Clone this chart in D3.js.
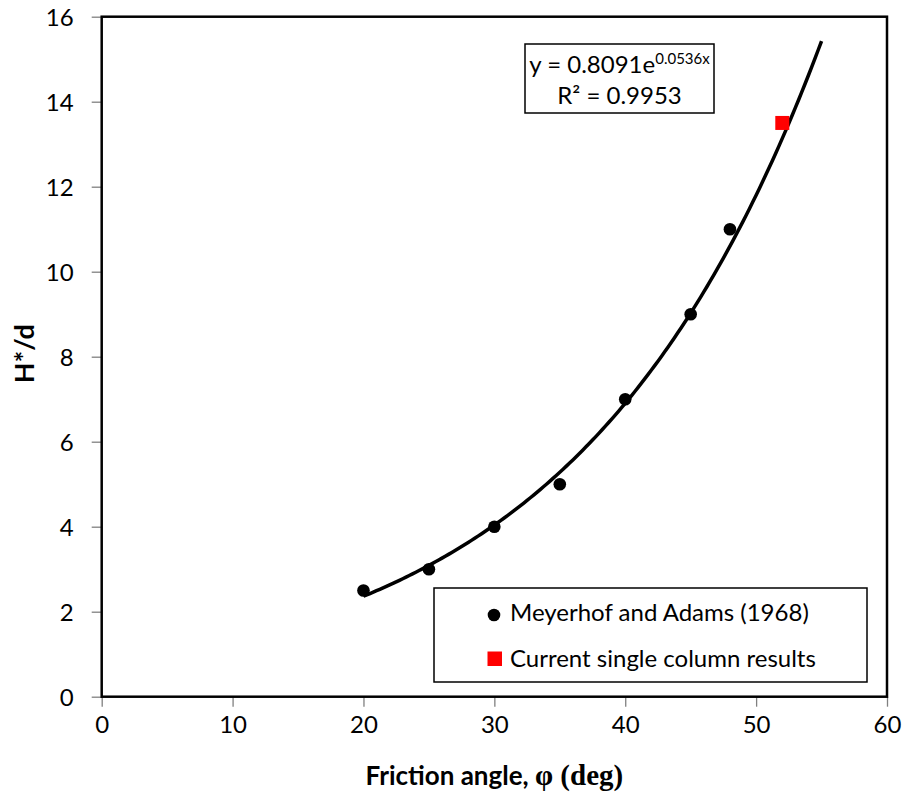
<!DOCTYPE html>
<html>
<head>
<meta charset="utf-8">
<script src="https://cdn.jsdelivr.net/npm/d3@7"></script>
<style>
  body { margin: 0; background: #fff; }
  svg text { font-family: Lato, "Open Sans", sans-serif; fill: #000; }
</style>
</head>
<body>
<div id="chart"></div>
<script>
// measured data (Meyerhof and Adams 1968) and current result
const frictionAngles = [20, 25, 30, 35, 40, 45, 48];
const heightRatios = [2.5, 3, 4, 5, 7, 9, 11];
const currentAngles = [52];
const currentRatios = [13.5];

// exponential trend line y = a * e^(b x)
const fitA = 0.8091;
const fitB = 0.0536;
const fitRange = [20, 55];
const fitText = { a: "0.8091", b: "0.0536x", r2: "0.9953" };

const xTicks = [0, 10, 20, 30, 40, 50, 60];
const yTicks = [0, 2, 4, 6, 8, 10, 12, 14, 16];
const legendLabels = ["Meyerhof and Adams (1968)", "Current single column results"];

const width = 906, height = 799;
const margin = { left: 101.7, right: 19, top: 16.7, bottom: 102.3 };

const svg = d3.select("#chart").append("svg")
  .attr("width", width)
  .attr("height", height);

const x = d3.scaleLinear().domain([0, 60]).range([margin.left, width - margin.right]);
const y = d3.scaleLinear().domain([0, 16]).range([height - margin.bottom, margin.top]);

// axes
const xAxis = d3.axisBottom(x).tickValues(xTicks).tickSize(10).tickPadding(9);
const yAxis = d3.axisLeft(y).tickValues(yTicks).tickSize(10).tickPadding(18);

const gx = svg.append("g")
  .attr("transform", `translate(0,${y(0)})`)
  .call(xAxis);
const gy = svg.append("g")
  .attr("transform", `translate(${x(0)},0)`)
  .call(yAxis);

[gx, gy].forEach(g => {
  g.select(".domain").remove();
  g.selectAll(".tick line").attr("stroke", "#808080").attr("stroke-width", 1.3);
  g.selectAll(".tick text").attr("font-size", 24).attr("font-family", "Lato, sans-serif").attr("fill", "#000");
});
gy.selectAll(".tick text").attr("dy", "0.36em");

// plot frame
svg.append("rect")
  .attr("x", x(0))
  .attr("y", y(16))
  .attr("width", x(60) - x(0))
  .attr("height", y(0) - y(16))
  .attr("fill", "none")
  .attr("stroke", "#000")
  .attr("stroke-width", 2.5);

// trend line
const fitPoints = d3.range(fitRange[0], fitRange[1] + 0.01, 0.25);
const line = d3.line()
  .x(d => x(d))
  .y(d => y(fitA * Math.exp(fitB * d)));

svg.append("path")
  .datum(fitPoints)
  .attr("d", line)
  .attr("fill", "none")
  .attr("stroke", "#000")
  .attr("stroke-width", 3.5);

// points
svg.append("g").selectAll("circle")
  .data(frictionAngles)
  .join("circle")
  .attr("cx", d => x(d))
  .attr("cy", (d, i) => y(heightRatios[i]))
  .attr("r", 6.3)
  .attr("fill", "#000");

const sq = 14;
svg.append("g").selectAll("rect")
  .data(currentAngles)
  .join("rect")
  .attr("x", d => x(d) - sq / 2)
  .attr("y", (d, i) => y(currentRatios[i]) - sq / 2)
  .attr("width", sq)
  .attr("height", sq)
  .attr("fill", "#ff0000");

// equation box
const eq = svg.append("g");
eq.append("rect")
  .attr("x", 525).attr("y", 44)
  .attr("width", 189).attr("height", 69)
  .attr("fill", "#fff")
  .attr("stroke", "#000")
  .attr("stroke-width", 1.5);
const eq1 = eq.append("text")
  .attr("x", 619.5).attr("y", 73.3)
  .attr("text-anchor", "middle")
  .attr("font-size", 24);
eq1.append("tspan").text(`y = ${fitText.a}e`);
eq1.append("tspan").attr("dy", -9).attr("font-size", 15).text(fitText.b);
eq.append("text")
  .attr("x", 619.5).attr("y", 104)
  .attr("text-anchor", "middle")
  .attr("font-size", 24)
  .text(`R² = ${fitText.r2}`);

// legend
const lg = svg.append("g");
lg.append("rect")
  .attr("x", 434).attr("y", 588)
  .attr("width", 433).attr("height", 94)
  .attr("fill", "#fff")
  .attr("stroke", "#000")
  .attr("stroke-width", 1.5);
lg.append("circle").attr("cx", 494).attr("cy", 615).attr("r", 6.3).attr("fill", "#000");
lg.append("rect").attr("x", 487.5).attr("y", 651.5).attr("width", 14.5).attr("height", 14.5).attr("fill", "#ff0000");
lg.selectAll("text.lab")
  .data(legendLabels)
  .join("text")
  .attr("class", "lab")
  .attr("x", 510)
  .attr("y", (d, i) => 620.5 + i * 46.5)
  .attr("font-size", 24)
  .text(d => d);

// axis titles
const xt = svg.append("text")
  .attr("x", (x(0) + x(60)) / 2)
  .attr("y", 785)
  .attr("text-anchor", "middle")
  .attr("font-size", 26)
  .attr("font-weight", "bold");
xt.append("tspan").text("Friction angle, ");
xt.append("tspan")
  .attr("font-family", "'Liberation Serif', 'DejaVu Serif', serif")
  .attr("font-size", 29)
  .text("φ (deg)");

svg.append("text")
  .attr("transform", `translate(34,${(y(0) + y(16)) / 2 - 3}) rotate(-90)`)
  .attr("text-anchor", "middle")
  .attr("font-size", 27)
  .attr("font-weight", "bold")
  .text("H*/d");
</script>
</body>
</html>
